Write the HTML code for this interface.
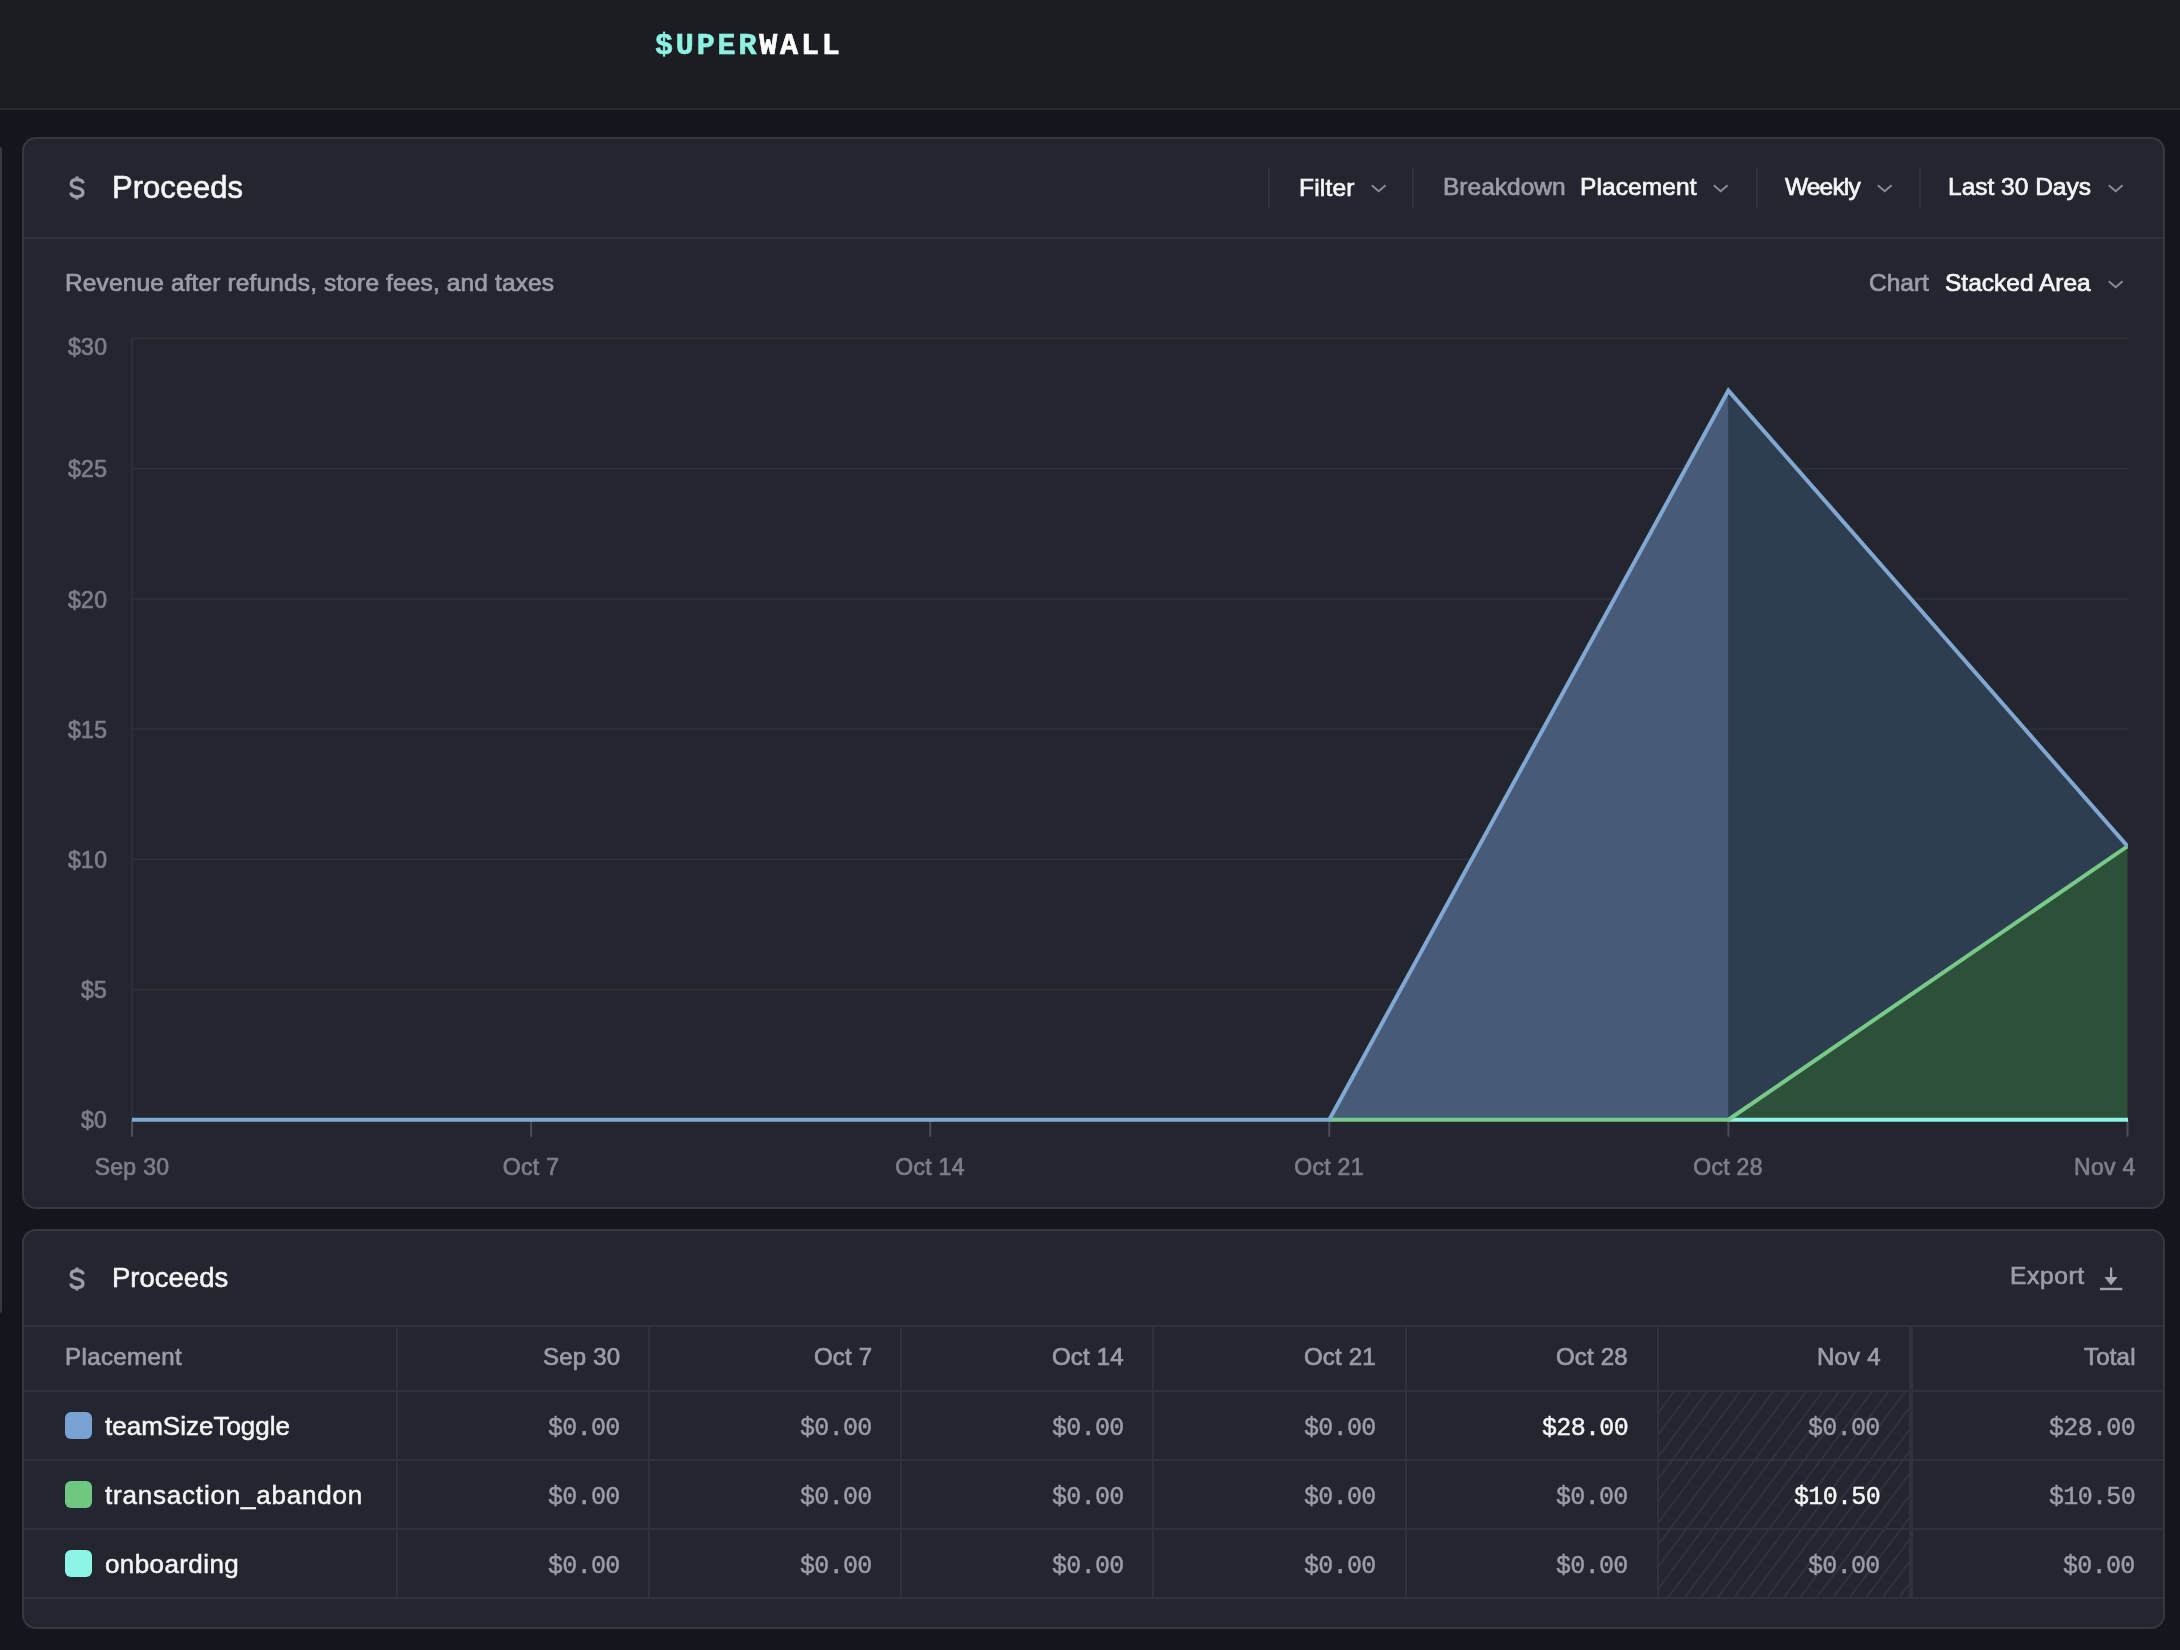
<!DOCTYPE html>
<html>
<head>
<meta charset="utf-8">
<style>
*{box-sizing:border-box;margin:0;padding:0}
html,body{width:2180px;height:1650px;overflow:hidden;background:#15161d;font-family:"Liberation Sans",sans-serif;color:#f5f5f7}
.abs{position:absolute}
.t{position:absolute;white-space:nowrap;will-change:transform}
.card{left:22px;width:2143px;background:#24262f;border:2px solid #36373f;border-radius:14px}
</style>
</head>
<body>
<div class="abs" style="left:0;top:0;width:2180px;height:108px;background:#1c1d22"></div><div class="abs" style="left:0;top:108px;width:2180px;height:2px;background:#2a2b31"></div><div class="abs" style="left:0;top:147px;width:2px;height:1166px;background:#383942;border-radius:0 2px 2px 0"></div><div class="t" style="left:655px;top:31.02px;font-size:30px;line-height:30px;font-weight:700;letter-spacing:2.85px;-webkit-text-stroke:0.6px currentColor;font-family:'Liberation Mono',monospace"><span style="color:#8ef2e2">$UPER</span><span style="color:#ffffff">WALL</span></div><div class="abs card" style="top:137px;height:1072px"></div><div class="abs card" style="top:1229px;height:400px"></div><div class="abs" style="left:24px;top:237px;width:2139px;height:2px;background:#30323b"></div><svg class="abs" style="left:69px;top:176px" width="16" height="24" viewBox="0 0 16 24"><path d="M14.2 7.4 C13.7 5 11.6 3.7 8 3.7 C4.5 3.7 2.2 5.2 2.2 7.7 C2.2 10.3 4.8 11.2 8 11.9 C11.4 12.6 14 13.7 14 16.6 C14 19.2 11.6 20.6 8 20.6 C4.4 20.6 2.1 19.1 1.8 16.5 M8 0.6 V3.7 M8 20.6 V23.4" fill="none" stroke="#9c9da6" stroke-width="3.2"/></svg>
<div class="t" style="top:171.75px;font-size:31px;line-height:31px;color:#f5f5f7;font-family:'Liberation Sans',sans-serif;-webkit-text-stroke:0.6px #f5f5f7;left:112px;">Proceeds</div>
<div class="abs" style="left:1268px;top:168px;width:2px;height:40px;background:#30323b"></div>
<div class="t" style="top:175.76px;font-size:24.5px;line-height:24.5px;color:#f5f5f7;font-family:'Liberation Sans',sans-serif;letter-spacing:0.2px;-webkit-text-stroke:0.7px #f5f5f7;left:1299px;">Filter</div>
<svg class="abs" style="left:1369px;top:182px" width="20" height="12" viewBox="0 0 20 12"><path d="M2.8 3.2 L9.7 9.2 L16.6 3.2" fill="none" stroke="#8a8b94" stroke-width="1.9"/></svg>
<div class="abs" style="left:1412px;top:168px;width:2px;height:40px;background:#30323b"></div>
<div class="t" style="top:175.26px;font-size:24.5px;line-height:24.5px;color:#9c9da6;font-family:'Liberation Sans',sans-serif;-webkit-text-stroke:0.7px #9c9da6;left:1443px;">Breakdown</div>
<div class="t" style="top:175.26px;font-size:24.5px;line-height:24.5px;color:#f5f5f7;font-family:'Liberation Sans',sans-serif;letter-spacing:0.1px;-webkit-text-stroke:0.7px #f5f5f7;left:1580px;">Placement</div>
<svg class="abs" style="left:1711px;top:182px" width="20" height="12" viewBox="0 0 20 12"><path d="M2.8 3.2 L9.7 9.2 L16.6 3.2" fill="none" stroke="#8a8b94" stroke-width="1.9"/></svg>
<div class="abs" style="left:1756px;top:168px;width:2px;height:40px;background:#30323b"></div>
<div class="t" style="top:175.26px;font-size:24.5px;line-height:24.5px;color:#f5f5f7;font-family:'Liberation Sans',sans-serif;letter-spacing:-0.85px;-webkit-text-stroke:0.7px #f5f5f7;left:1785px;">Weekly</div>
<svg class="abs" style="left:1875px;top:182px" width="20" height="12" viewBox="0 0 20 12"><path d="M2.8 3.2 L9.7 9.2 L16.6 3.2" fill="none" stroke="#8a8b94" stroke-width="1.9"/></svg>
<div class="abs" style="left:1919px;top:168px;width:2px;height:40px;background:#30323b"></div>
<div class="t" style="top:175.26px;font-size:24.5px;line-height:24.5px;color:#f5f5f7;font-family:'Liberation Sans',sans-serif;-webkit-text-stroke:0.7px #f5f5f7;left:1948px;">Last 30 Days</div>
<svg class="abs" style="left:2106px;top:182px" width="20" height="12" viewBox="0 0 20 12"><path d="M2.8 3.2 L9.7 9.2 L16.6 3.2" fill="none" stroke="#8a8b94" stroke-width="1.9"/></svg>
<div class="t" style="top:271.26px;font-size:24.5px;line-height:24.5px;color:#9c9da6;font-family:'Liberation Sans',sans-serif;letter-spacing:0.13px;-webkit-text-stroke:0.7px #9c9da6;left:65px;">Revenue after refunds, store fees, and taxes</div>
<div class="t" style="top:271.26px;font-size:24.5px;line-height:24.5px;color:#9c9da6;font-family:'Liberation Sans',sans-serif;-webkit-text-stroke:0.7px #9c9da6;left:1869px;">Chart</div>
<div class="t" style="top:271.26px;font-size:24.5px;line-height:24.5px;color:#f5f5f7;font-family:'Liberation Sans',sans-serif;-webkit-text-stroke:0.7px #f5f5f7;left:1945px;">Stacked Area</div>
<svg class="abs" style="left:2106px;top:278px" width="20" height="12" viewBox="0 0 20 12"><path d="M2.8 3.2 L9.7 9.2 L16.6 3.2" fill="none" stroke="#8a8b94" stroke-width="1.9"/></svg>
<svg class="abs" style="left:0;top:0" width="2180" height="1650" viewBox="0 0 2180 1650"><defs><clipPath id="plot"><rect x="132" y="300" width="1996" height="900"/></clipPath></defs>
<rect x="132.0" y="1118.70" width="1996.0" height="2" fill="#2e3039"/>
<rect x="132.0" y="988.50" width="1996.0" height="2" fill="#2e3039"/>
<rect x="132.0" y="858.30" width="1996.0" height="2" fill="#2e3039"/>
<rect x="132.0" y="728.10" width="1996.0" height="2" fill="#2e3039"/>
<rect x="132.0" y="597.90" width="1996.0" height="2" fill="#2e3039"/>
<rect x="132.0" y="467.70" width="1996.0" height="2" fill="#2e3039"/>
<rect x="132.0" y="337.50" width="1996.0" height="2" fill="#2e3039"/>
<rect x="131.0" y="337.50" width="2" height="783.2" fill="#2e3039"/>
<rect x="131.00" y="1119.70" width="2" height="17" fill="#4b4d56"/>
<rect x="530.10" y="1119.70" width="2" height="17" fill="#4b4d56"/>
<rect x="929.20" y="1119.70" width="2" height="17" fill="#4b4d56"/>
<rect x="1328.30" y="1119.70" width="2" height="17" fill="#4b4d56"/>
<rect x="1727.40" y="1119.70" width="2" height="17" fill="#4b4d56"/>
<rect x="2126.50" y="1119.70" width="2" height="17" fill="#4b4d56"/>
<polygon points="1329.30,1119.7 1728.40,390.58 1728.40,1119.7" fill="#475a78"/>
<polygon points="1728.40,390.58 2127.50,846.28 1728.40,1119.7" fill="#2e3d4f"/>
<polygon points="1728.40,1119.7 2127.50,846.28 2127.50,1119.7" fill="#2d5038"/>
<rect x="1727.90" y="396.58" width="1" height="723.1" fill="#3a4a5e" opacity="0.6"/>
<g clip-path="url(#plot)">
<polyline points="1728.40,1119.7 2132.50,1119.7" fill="none" stroke="#8ff3e3" stroke-width="4.0"/>
<polyline points="1329.30,1119.7 1728.40,1119.7 2127.50,846.28" fill="none" stroke="#78ca88" stroke-width="4.0" stroke-linejoin="miter"/>
<polyline points="127.00,1119.7 1329.30,1119.7 1728.40,390.58 2127.50,846.28" fill="none" stroke="#80a8d2" stroke-width="4.0" stroke-linejoin="miter"/>
</g>
</svg>
<div class="t" style="top:336.03px;font-size:23px;line-height:23px;color:#7d7e88;font-family:'Liberation Sans',sans-serif;letter-spacing:0.3px;-webkit-text-stroke:0.7px #7d7e88;right:2072.70px;text-align:right;">$30</div>
<div class="t" style="top:458.33px;font-size:23px;line-height:23px;color:#7d7e88;font-family:'Liberation Sans',sans-serif;letter-spacing:0.3px;-webkit-text-stroke:0.7px #7d7e88;right:2072.70px;text-align:right;">$25</div>
<div class="t" style="top:588.53px;font-size:23px;line-height:23px;color:#7d7e88;font-family:'Liberation Sans',sans-serif;letter-spacing:0.3px;-webkit-text-stroke:0.7px #7d7e88;right:2072.70px;text-align:right;">$20</div>
<div class="t" style="top:718.73px;font-size:23px;line-height:23px;color:#7d7e88;font-family:'Liberation Sans',sans-serif;letter-spacing:0.3px;-webkit-text-stroke:0.7px #7d7e88;right:2072.70px;text-align:right;">$15</div>
<div class="t" style="top:848.93px;font-size:23px;line-height:23px;color:#7d7e88;font-family:'Liberation Sans',sans-serif;letter-spacing:0.3px;-webkit-text-stroke:0.7px #7d7e88;right:2072.70px;text-align:right;">$10</div>
<div class="t" style="top:979.13px;font-size:23px;line-height:23px;color:#7d7e88;font-family:'Liberation Sans',sans-serif;letter-spacing:0.3px;-webkit-text-stroke:0.7px #7d7e88;right:2072.70px;text-align:right;">$5</div>
<div class="t" style="top:1109.33px;font-size:23px;line-height:23px;color:#7d7e88;font-family:'Liberation Sans',sans-serif;letter-spacing:0.3px;-webkit-text-stroke:0.7px #7d7e88;right:2072.70px;text-align:right;">$0</div>
<div class="t" style="top:1155.53px;font-size:23px;line-height:23px;color:#7d7e88;font-family:'Liberation Sans',sans-serif;letter-spacing:0.3px;-webkit-text-stroke:0.7px #7d7e88;left:-368.0px;width:1000px;text-align:center;">Sep 30</div>
<div class="t" style="top:1155.53px;font-size:23px;line-height:23px;color:#7d7e88;font-family:'Liberation Sans',sans-serif;letter-spacing:0.3px;-webkit-text-stroke:0.7px #7d7e88;left:31.100000000000023px;width:1000px;text-align:center;">Oct 7</div>
<div class="t" style="top:1155.53px;font-size:23px;line-height:23px;color:#7d7e88;font-family:'Liberation Sans',sans-serif;letter-spacing:0.3px;-webkit-text-stroke:0.7px #7d7e88;left:430.20000000000005px;width:1000px;text-align:center;">Oct 14</div>
<div class="t" style="top:1155.53px;font-size:23px;line-height:23px;color:#7d7e88;font-family:'Liberation Sans',sans-serif;letter-spacing:0.3px;-webkit-text-stroke:0.7px #7d7e88;left:829.3000000000002px;width:1000px;text-align:center;">Oct 21</div>
<div class="t" style="top:1155.53px;font-size:23px;line-height:23px;color:#7d7e88;font-family:'Liberation Sans',sans-serif;letter-spacing:0.3px;-webkit-text-stroke:0.7px #7d7e88;left:1228.4px;width:1000px;text-align:center;">Oct 28</div>
<div class="t" style="top:1155.53px;font-size:23px;line-height:23px;color:#7d7e88;font-family:'Liberation Sans',sans-serif;letter-spacing:0.3px;-webkit-text-stroke:0.7px #7d7e88;right:44.70px;text-align:right;">Nov 4</div>
<svg class="abs" style="left:69px;top:1266.5px" width="16" height="24" viewBox="0 0 16 24"><path d="M14.2 7.4 C13.7 5 11.6 3.7 8 3.7 C4.5 3.7 2.2 5.2 2.2 7.7 C2.2 10.3 4.8 11.2 8 11.9 C11.4 12.6 14 13.7 14 16.6 C14 19.2 11.6 20.6 8 20.6 C4.4 20.6 2.1 19.1 1.8 16.5 M8 0.6 V3.7 M8 20.6 V23.4" fill="none" stroke="#9c9da6" stroke-width="3.2"/></svg>
<div class="t" style="top:1264.32px;font-size:27.5px;line-height:27.5px;color:#f5f5f7;font-family:'Liberation Sans',sans-serif;-webkit-text-stroke:0.55px #f5f5f7;left:112px;">Proceeds</div>
<div class="t" style="top:1264.26px;font-size:24.5px;line-height:24.5px;color:#9c9da6;font-family:'Liberation Sans',sans-serif;letter-spacing:0.65px;-webkit-text-stroke:0.7px #9c9da6;right:95.35px;text-align:right;">Export</div>
<svg class="abs" style="left:2098px;top:1266px" width="26" height="26" viewBox="0 0 26 26"><rect x="12" y="1.5" width="2.2" height="11" fill="#a0a1aa"/><path d="M6.4 11 H19.6 L13 19.3 Z" fill="#a0a1aa"/><rect x="2" y="21.8" width="22.3" height="2.4" fill="#a0a1aa"/></svg>
<div class="abs" style="left:24px;top:1325px;width:2139px;height:2px;background:#30323b"></div>
<div class="abs" style="left:24px;top:1390px;width:2139px;height:2px;background:#30323b"></div>
<div class="abs" style="left:24px;top:1459px;width:2139px;height:2px;background:#30323b"></div>
<div class="abs" style="left:24px;top:1528px;width:2139px;height:2px;background:#30323b"></div>
<div class="abs" style="left:24px;top:1597px;width:2139px;height:2px;background:#30323b"></div>
<svg class="abs" style="left:1659px;top:1392px" width="251" height="205" viewBox="0 0 251 205"><line x1="-205.0" y1="205" x2="-51.2" y2="0" stroke="#31333d" stroke-width="1.8"/><line x1="-188.5" y1="205" x2="-34.8" y2="0" stroke="#31333d" stroke-width="1.8"/><line x1="-172.0" y1="205" x2="-18.2" y2="0" stroke="#31333d" stroke-width="1.8"/><line x1="-155.5" y1="205" x2="-1.8" y2="0" stroke="#31333d" stroke-width="1.8"/><line x1="-139.0" y1="205" x2="14.8" y2="0" stroke="#31333d" stroke-width="1.8"/><line x1="-122.5" y1="205" x2="31.2" y2="0" stroke="#31333d" stroke-width="1.8"/><line x1="-106.0" y1="205" x2="47.8" y2="0" stroke="#31333d" stroke-width="1.8"/><line x1="-89.5" y1="205" x2="64.2" y2="0" stroke="#31333d" stroke-width="1.8"/><line x1="-73.0" y1="205" x2="80.8" y2="0" stroke="#31333d" stroke-width="1.8"/><line x1="-56.5" y1="205" x2="97.2" y2="0" stroke="#31333d" stroke-width="1.8"/><line x1="-40.0" y1="205" x2="113.8" y2="0" stroke="#31333d" stroke-width="1.8"/><line x1="-23.5" y1="205" x2="130.2" y2="0" stroke="#31333d" stroke-width="1.8"/><line x1="-7.0" y1="205" x2="146.8" y2="0" stroke="#31333d" stroke-width="1.8"/><line x1="9.5" y1="205" x2="163.2" y2="0" stroke="#31333d" stroke-width="1.8"/><line x1="26.0" y1="205" x2="179.8" y2="0" stroke="#31333d" stroke-width="1.8"/><line x1="42.5" y1="205" x2="196.2" y2="0" stroke="#31333d" stroke-width="1.8"/><line x1="59.0" y1="205" x2="212.8" y2="0" stroke="#31333d" stroke-width="1.8"/><line x1="75.5" y1="205" x2="229.2" y2="0" stroke="#31333d" stroke-width="1.8"/><line x1="92.0" y1="205" x2="245.8" y2="0" stroke="#31333d" stroke-width="1.8"/><line x1="108.5" y1="205" x2="262.2" y2="0" stroke="#31333d" stroke-width="1.8"/><line x1="125.0" y1="205" x2="278.8" y2="0" stroke="#31333d" stroke-width="1.8"/><line x1="141.5" y1="205" x2="295.2" y2="0" stroke="#31333d" stroke-width="1.8"/><line x1="158.0" y1="205" x2="311.8" y2="0" stroke="#31333d" stroke-width="1.8"/><line x1="174.5" y1="205" x2="328.2" y2="0" stroke="#31333d" stroke-width="1.8"/><line x1="191.0" y1="205" x2="344.8" y2="0" stroke="#31333d" stroke-width="1.8"/><line x1="207.5" y1="205" x2="361.2" y2="0" stroke="#31333d" stroke-width="1.8"/><line x1="224.0" y1="205" x2="377.8" y2="0" stroke="#31333d" stroke-width="1.8"/><line x1="240.5" y1="205" x2="394.2" y2="0" stroke="#31333d" stroke-width="1.8"/><line x1="257.0" y1="205" x2="410.8" y2="0" stroke="#31333d" stroke-width="1.8"/><line x1="273.5" y1="205" x2="427.2" y2="0" stroke="#31333d" stroke-width="1.8"/><line x1="290.0" y1="205" x2="443.8" y2="0" stroke="#31333d" stroke-width="1.8"/><line x1="306.5" y1="205" x2="460.2" y2="0" stroke="#31333d" stroke-width="1.8"/><line x1="323.0" y1="205" x2="476.8" y2="0" stroke="#31333d" stroke-width="1.8"/><line x1="339.5" y1="205" x2="493.2" y2="0" stroke="#31333d" stroke-width="1.8"/><line x1="356.0" y1="205" x2="509.8" y2="0" stroke="#31333d" stroke-width="1.8"/><line x1="372.5" y1="205" x2="526.2" y2="0" stroke="#31333d" stroke-width="1.8"/><line x1="389.0" y1="205" x2="542.8" y2="0" stroke="#31333d" stroke-width="1.8"/><line x1="405.5" y1="205" x2="559.2" y2="0" stroke="#31333d" stroke-width="1.8"/><line x1="422.0" y1="205" x2="575.8" y2="0" stroke="#31333d" stroke-width="1.8"/><line x1="438.5" y1="205" x2="592.2" y2="0" stroke="#31333d" stroke-width="1.8"/><line x1="455.0" y1="205" x2="608.8" y2="0" stroke="#31333d" stroke-width="1.8"/></svg>
<div class="abs" style="left:396px;top:1326px;width:2px;height:272px;background:#30323b"></div>
<div class="abs" style="left:648px;top:1326px;width:2px;height:272px;background:#30323b"></div>
<div class="abs" style="left:900px;top:1326px;width:2px;height:272px;background:#30323b"></div>
<div class="abs" style="left:1152px;top:1326px;width:2px;height:272px;background:#30323b"></div>
<div class="abs" style="left:1405px;top:1326px;width:2px;height:272px;background:#30323b"></div>
<div class="abs" style="left:1657px;top:1326px;width:2px;height:272px;background:#30323b"></div>
<div class="abs" style="left:1909px;top:1326px;width:4px;height:272px;background:#30323b"></div>
<div class="t" style="top:1345.18px;font-size:24px;line-height:24px;color:#9c9da6;font-family:'Liberation Sans',sans-serif;letter-spacing:0.4px;-webkit-text-stroke:0.7px #9c9da6;left:65px;">Placement</div>
<div class="t" style="top:1345.18px;font-size:24px;line-height:24px;color:#9c9da6;font-family:'Liberation Sans',sans-serif;letter-spacing:0.2px;-webkit-text-stroke:0.7px #9c9da6;right:1559.80px;text-align:right;">Sep 30</div>
<div class="t" style="top:1345.18px;font-size:24px;line-height:24px;color:#9c9da6;font-family:'Liberation Sans',sans-serif;letter-spacing:0.2px;-webkit-text-stroke:0.7px #9c9da6;right:1307.80px;text-align:right;">Oct 7</div>
<div class="t" style="top:1345.18px;font-size:24px;line-height:24px;color:#9c9da6;font-family:'Liberation Sans',sans-serif;letter-spacing:0.2px;-webkit-text-stroke:0.7px #9c9da6;right:1055.80px;text-align:right;">Oct 14</div>
<div class="t" style="top:1345.18px;font-size:24px;line-height:24px;color:#9c9da6;font-family:'Liberation Sans',sans-serif;letter-spacing:0.2px;-webkit-text-stroke:0.7px #9c9da6;right:803.80px;text-align:right;">Oct 21</div>
<div class="t" style="top:1345.18px;font-size:24px;line-height:24px;color:#9c9da6;font-family:'Liberation Sans',sans-serif;letter-spacing:0.2px;-webkit-text-stroke:0.7px #9c9da6;right:551.80px;text-align:right;">Oct 28</div>
<div class="t" style="top:1345.18px;font-size:24px;line-height:24px;color:#9c9da6;font-family:'Liberation Sans',sans-serif;letter-spacing:0.2px;-webkit-text-stroke:0.7px #9c9da6;right:299.80px;text-align:right;">Nov 4</div>
<div class="t" style="top:1345.18px;font-size:24px;line-height:24px;color:#9c9da6;font-family:'Liberation Sans',sans-serif;letter-spacing:0.2px;-webkit-text-stroke:0.7px #9c9da6;right:44.80px;text-align:right;">Total</div>
<div class="abs" style="left:65px;top:1411.7px;width:27px;height:27px;border-radius:6px;background:#78a2d2"></div>
<div class="t" style="top:1412.59px;font-size:26px;line-height:26px;color:#f5f5f7;font-family:'Liberation Sans',sans-serif;-webkit-text-stroke:0.5px #f5f5f7;left:105px;">teamSizeToggle</div>
<div class="t" style="top:1416.05px;font-size:25px;line-height:25px;color:#9c9da6;font-family:'Liberation Mono',monospace;letter-spacing:-0.67px;-webkit-text-stroke:0.45px #9c9da6;right:1559.87px;text-align:right;">$0.00</div>
<div class="t" style="top:1416.05px;font-size:25px;line-height:25px;color:#9c9da6;font-family:'Liberation Mono',monospace;letter-spacing:-0.67px;-webkit-text-stroke:0.45px #9c9da6;right:1307.87px;text-align:right;">$0.00</div>
<div class="t" style="top:1416.05px;font-size:25px;line-height:25px;color:#9c9da6;font-family:'Liberation Mono',monospace;letter-spacing:-0.67px;-webkit-text-stroke:0.45px #9c9da6;right:1055.87px;text-align:right;">$0.00</div>
<div class="t" style="top:1416.05px;font-size:25px;line-height:25px;color:#9c9da6;font-family:'Liberation Mono',monospace;letter-spacing:-0.67px;-webkit-text-stroke:0.45px #9c9da6;right:803.87px;text-align:right;">$0.00</div>
<div class="t" style="top:1416.05px;font-size:25px;line-height:25px;color:#f5f5f7;font-family:'Liberation Mono',monospace;letter-spacing:-0.67px;-webkit-text-stroke:0.45px #f5f5f7;right:551.87px;text-align:right;">$28.00</div>
<div class="t" style="top:1416.05px;font-size:25px;line-height:25px;color:#9c9da6;font-family:'Liberation Mono',monospace;letter-spacing:-0.67px;-webkit-text-stroke:0.45px #9c9da6;right:299.87px;text-align:right;">$0.00</div>
<div class="t" style="top:1416.05px;font-size:25px;line-height:25px;color:#9c9da6;font-family:'Liberation Mono',monospace;letter-spacing:-0.67px;-webkit-text-stroke:0.45px #9c9da6;right:44.87px;text-align:right;">$28.00</div>
<div class="abs" style="left:65px;top:1480.7px;width:27px;height:27px;border-radius:6px;background:#6ec882"></div>
<div class="t" style="top:1481.59px;font-size:26px;line-height:26px;color:#f5f5f7;font-family:'Liberation Sans',sans-serif;letter-spacing:0.8px;-webkit-text-stroke:0.5px #f5f5f7;left:105px;">transaction_abandon</div>
<div class="t" style="top:1485.05px;font-size:25px;line-height:25px;color:#9c9da6;font-family:'Liberation Mono',monospace;letter-spacing:-0.67px;-webkit-text-stroke:0.45px #9c9da6;right:1559.87px;text-align:right;">$0.00</div>
<div class="t" style="top:1485.05px;font-size:25px;line-height:25px;color:#9c9da6;font-family:'Liberation Mono',monospace;letter-spacing:-0.67px;-webkit-text-stroke:0.45px #9c9da6;right:1307.87px;text-align:right;">$0.00</div>
<div class="t" style="top:1485.05px;font-size:25px;line-height:25px;color:#9c9da6;font-family:'Liberation Mono',monospace;letter-spacing:-0.67px;-webkit-text-stroke:0.45px #9c9da6;right:1055.87px;text-align:right;">$0.00</div>
<div class="t" style="top:1485.05px;font-size:25px;line-height:25px;color:#9c9da6;font-family:'Liberation Mono',monospace;letter-spacing:-0.67px;-webkit-text-stroke:0.45px #9c9da6;right:803.87px;text-align:right;">$0.00</div>
<div class="t" style="top:1485.05px;font-size:25px;line-height:25px;color:#9c9da6;font-family:'Liberation Mono',monospace;letter-spacing:-0.67px;-webkit-text-stroke:0.45px #9c9da6;right:551.87px;text-align:right;">$0.00</div>
<div class="t" style="top:1485.05px;font-size:25px;line-height:25px;color:#f5f5f7;font-family:'Liberation Mono',monospace;letter-spacing:-0.67px;-webkit-text-stroke:0.45px #f5f5f7;right:299.87px;text-align:right;">$10.50</div>
<div class="t" style="top:1485.05px;font-size:25px;line-height:25px;color:#9c9da6;font-family:'Liberation Mono',monospace;letter-spacing:-0.67px;-webkit-text-stroke:0.45px #9c9da6;right:44.87px;text-align:right;">$10.50</div>
<div class="abs" style="left:65px;top:1549.7px;width:27px;height:27px;border-radius:6px;background:#8cf5e6"></div>
<div class="t" style="top:1550.59px;font-size:26px;line-height:26px;color:#f5f5f7;font-family:'Liberation Sans',sans-serif;letter-spacing:0.4px;-webkit-text-stroke:0.5px #f5f5f7;left:105px;">onboarding</div>
<div class="t" style="top:1554.05px;font-size:25px;line-height:25px;color:#9c9da6;font-family:'Liberation Mono',monospace;letter-spacing:-0.67px;-webkit-text-stroke:0.45px #9c9da6;right:1559.87px;text-align:right;">$0.00</div>
<div class="t" style="top:1554.05px;font-size:25px;line-height:25px;color:#9c9da6;font-family:'Liberation Mono',monospace;letter-spacing:-0.67px;-webkit-text-stroke:0.45px #9c9da6;right:1307.87px;text-align:right;">$0.00</div>
<div class="t" style="top:1554.05px;font-size:25px;line-height:25px;color:#9c9da6;font-family:'Liberation Mono',monospace;letter-spacing:-0.67px;-webkit-text-stroke:0.45px #9c9da6;right:1055.87px;text-align:right;">$0.00</div>
<div class="t" style="top:1554.05px;font-size:25px;line-height:25px;color:#9c9da6;font-family:'Liberation Mono',monospace;letter-spacing:-0.67px;-webkit-text-stroke:0.45px #9c9da6;right:803.87px;text-align:right;">$0.00</div>
<div class="t" style="top:1554.05px;font-size:25px;line-height:25px;color:#9c9da6;font-family:'Liberation Mono',monospace;letter-spacing:-0.67px;-webkit-text-stroke:0.45px #9c9da6;right:551.87px;text-align:right;">$0.00</div>
<div class="t" style="top:1554.05px;font-size:25px;line-height:25px;color:#9c9da6;font-family:'Liberation Mono',monospace;letter-spacing:-0.67px;-webkit-text-stroke:0.45px #9c9da6;right:299.87px;text-align:right;">$0.00</div>
<div class="t" style="top:1554.05px;font-size:25px;line-height:25px;color:#9c9da6;font-family:'Liberation Mono',monospace;letter-spacing:-0.67px;-webkit-text-stroke:0.45px #9c9da6;right:44.87px;text-align:right;">$0.00</div>

</body>
</html>
